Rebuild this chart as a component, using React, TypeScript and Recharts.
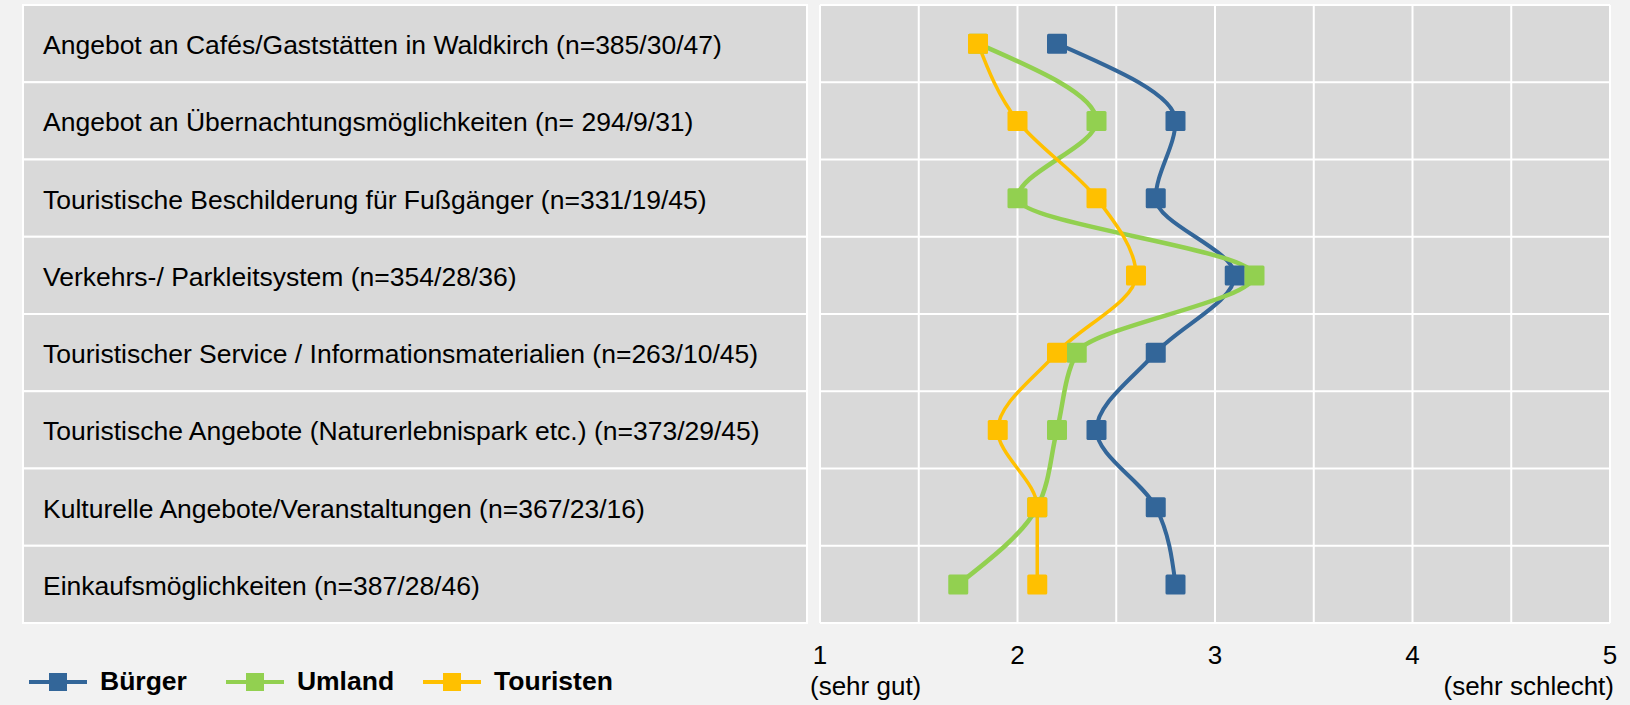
import React from 'react';
import { LineChart, Line, XAxis, YAxis, CartesianGrid, Legend } from 'recharts';

const categories = [
  'Angebot an Cafés/Gaststätten in Waldkirch (n=385/30/47)',
  'Angebot an Übernachtungsmöglichkeiten (n= 294/9/31)',
  'Touristische Beschilderung für Fußgänger (n=331/19/45)',
  'Verkehrs-/ Parkleitsystem (n=354/28/36)',
  'Touristischer Service / Informationsmaterialien (n=263/10/45)',
  'Touristische Angebote (Naturerlebnispark etc.) (n=373/29/45)',
  'Kulturelle Angebote/Veranstaltungen (n=367/23/16)',
  'Einkaufsmöglichkeiten (n=387/28/46)',
];

const buerger = [2.2, 2.8, 2.7, 3.1, 2.7, 2.4, 2.7, 2.8];
const umland = [1.8, 2.4, 2.0, 3.2, 2.3, 2.2, 2.1, 1.7];
const touristen = [1.8, 2.0, 2.4, 2.6, 2.2, 1.9, 2.1, 2.1];

const xTicks = [1, 1.5, 2, 2.5, 3, 3.5, 4, 4.5, 5];
const xTickLabels: Record<number, string> = { 1: '1', 2: '2', 3: '3', 4: '4', 5: '5' };
const xEndLabels: Record<number, string> = { 1: '(sehr gut)', 5: '(sehr schlecht)' };

const series = [
  { key: 'buerger', name: 'Bürger', color: '#336699', width: 4 },
  { key: 'umland', name: 'Umland', color: '#92D050', width: 4.5 },
  { key: 'touristen', name: 'Touristen', color: '#FFC000', width: 3.5 },
];

const data = categories.map((label, i) => ({
  label,
  buerger: buerger[i],
  umland: umland[i],
  touristen: touristen[i],
}));

const W = 1630;
const H = 705;
const TOP = 5;
const X_AXIS_H = 82;
const Y_AXIS_W = 820;
const PLOT_H = H - TOP - X_AXIS_H;
const BAND = PLOT_H / categories.length;
const FONT = '"Liberation Sans", Arial, sans-serif';

const LabelTick = (props: any) => {
  const { y, payload } = props;
  return (
    <g>
      <rect
        x={23}
        y={y - BAND / 2}
        width={784}
        height={BAND}
        fill="#D9D9D9"
        stroke="#FFFFFF"
        strokeWidth={2}
      />
      <text x={43} y={y + 10.5} fontSize={26.5} fontFamily={FONT} fill="#000">
        {payload.value}
      </text>
    </g>
  );
};

const ValueTick = (props: any) => {
  const { x, payload } = props;
  const v = payload.value;
  const base = TOP + PLOT_H;
  if (!xTickLabels[v]) return null;
  const end = xEndLabels[v];
  return (
    <g fontFamily={FONT} fontSize={26} fill="#000">
      <text x={x} y={base + 41} textAnchor="middle">
        {xTickLabels[v]}
      </text>
      {end && (
        <text x={v === 1 ? x - 10 : x + 4} y={base + 72} textAnchor={v === 1 ? 'start' : 'end'}>
          {end}
        </text>
      )}
    </g>
  );
};

const SquareDot = (props: any) => {
  const { cx, cy, stroke, index, dataKey } = props;
  return <rect key={`${dataKey}-${index}`} x={cx - 10} y={cy - 10} width={20} height={20} rx={1.5} fill={stroke} />;
};

const legendGaps = [39, 29, 0];

const LegendContent = () => (
  <div style={{ display: 'flex', alignItems: 'center', fontFamily: FONT }}>
    {series.map((s, i) => (
      <div key={s.key} style={{ display: 'flex', alignItems: 'center', marginRight: legendGaps[i] }}>
        <svg width={58} height={20} style={{ display: 'block' }}>
          <line x1={0} y1={10} x2={58} y2={10} stroke={s.color} strokeWidth={4} />
          <rect x={20} y={1} width={18} height={18} fill={s.color} />
        </svg>
        <span style={{ fontWeight: 'bold', fontSize: 26.5, marginLeft: 13, color: '#000' }}>{s.name}</span>
      </div>
    ))}
  </div>
);

export default function App() {
  return (
    <div style={{ position: 'absolute', left: 0, top: 0, width: W, height: H, background: '#F2F2F2' }}>
      <LineChart
        width={W}
        height={H}
        data={data}
        layout="vertical"
        margin={{ top: TOP, right: 20, bottom: 0, left: 0 }}
      >
        <CartesianGrid
          fill="#D9D9D9"
          stroke="#FFFFFF"
          strokeWidth={2}
          horizontalCoordinatesGenerator={({ offset }: any) =>
            categories.map((_, i) => offset.top + (i * offset.height) / categories.length).concat(offset.top + offset.height)
          }
        />
        <XAxis
          type="number"
          domain={[1, 5]}
          ticks={xTicks}
          interval={0}
          height={X_AXIS_H}
          axisLine={false}
          tickLine={false}
          tick={<ValueTick />}
        />
        <YAxis
          type="category"
          dataKey="label"
          scale="band"
          width={Y_AXIS_W}
          interval={0}
          axisLine={false}
          tickLine={false}
          tick={<LabelTick />}
        />
        <Legend
          layout="horizontal"
          align="center"
          verticalAlign="middle"
          wrapperStyle={{ left: 29, top: 666, width: 700 }}
          content={<LegendContent />}
        />
        {series.map((s) => (
          <Line
            key={s.key}
            type="monotone"
            dataKey={s.key}
            name={s.name}
            stroke={s.color}
            strokeWidth={s.width}
            dot={<SquareDot />}
            activeDot={false}
            isAnimationActive={false}
          />
        ))}
      </LineChart>
    </div>
  );
}
